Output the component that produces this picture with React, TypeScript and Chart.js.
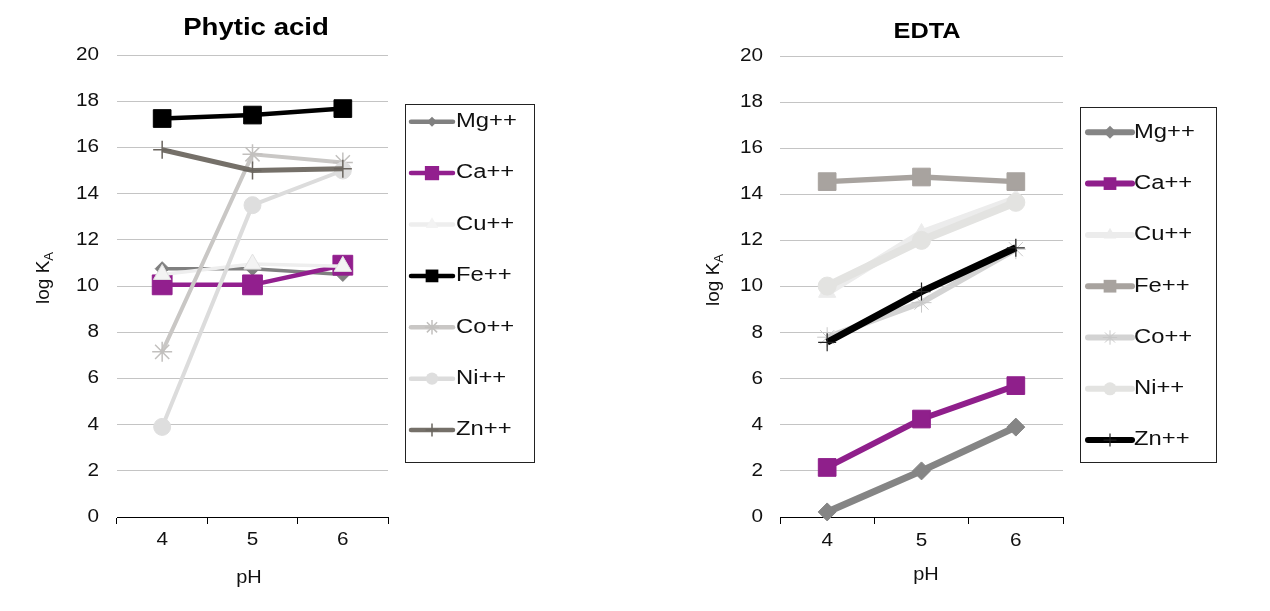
import React, { useEffect, useRef } from 'react';
import { Chart, registerables } from 'chart.js';

Chart.register(...registerables);

// ---------- data ----------
const phLabels = ['4', '5', '6'];
const seriesNames = ['Mg++', 'Ca++', 'Cu++', 'Fe++', 'Co++', 'Ni++', 'Zn++'];
const yMin = 0;
const yMax = 20;
const yStep = 2;

const phyticMg = [10.75, 10.75, 10.5];
const phyticCa = [10.05, 10.05, 10.9];
const phyticCu = [10.5, 10.95, 10.85];
const phyticFe = [17.25, 17.4, 17.68];
const phyticCo = [7.15, 15.7, 15.35];
const phyticNi = [3.9, 13.5, 15.0];
const phyticZn = [15.9, 15.0, 15.08];

const edtaMg = [0.22, 2.0, 3.9];
const edtaCa = [2.15, 4.25, 5.7];
const edtaCu = [9.75, 12.3, 13.8];
const edtaFe = [14.55, 14.75, 14.55];
const edtaCo = [7.8, 9.3, 11.62];
const edtaNi = [10.02, 12.0, 13.65];
const edtaZn = [7.58, 9.78, 11.68];

// ---------- styles ----------
type SeriesStyle = {
  color: string;
  width: number;
  point: string;
  radius: number;
  fill: string;
  stroke: string;
  pbw: number;
};

const phyticStyles: SeriesStyle[] = [
  { color: '#808080', width: 3.5, point: 'rectRot', radius: 7, fill: '#808080', stroke: '#808080', pbw: 1 },
  { color: '#921f8e', width: 4.5, point: 'rect', radius: 14, fill: '#921f8e', stroke: '#921f8e', pbw: 1 },
  { color: '#eeeeee', width: 3.5, point: 'triangle', radius: 10, fill: '#f3f3f3', stroke: '#e2e2e2', pbw: 1 },
  { color: '#000000', width: 4.5, point: 'rect', radius: 12.5, fill: '#000000', stroke: '#000000', pbw: 1 },
  { color: '#c9c7c5', width: 4, point: 'star', radius: 10, fill: '#c9c7c5', stroke: '#c2c0be', pbw: 1.5 },
  { color: '#dcdcdc', width: 4, point: 'circle', radius: 8.5, fill: '#dedede', stroke: '#dedede', pbw: 1 },
  { color: '#757069', width: 5, point: 'cross', radius: 9, fill: '#757069', stroke: '#6a655f', pbw: 1.5 },
];

const edtaStyles: SeriesStyle[] = [
  { color: '#858585', width: 7, point: 'rectRot', radius: 9, fill: '#858585', stroke: '#858585', pbw: 1 },
  { color: '#8f1f8b', width: 6, point: 'rect', radius: 12.5, fill: '#8f1f8b', stroke: '#8f1f8b', pbw: 1 },
  { color: '#ececec', width: 8, point: 'triangle', radius: 10, fill: '#ececec', stroke: '#ececec', pbw: 1 },
  { color: '#a8a39f', width: 5.5, point: 'rect', radius: 12.5, fill: '#a8a39f', stroke: '#a8a39f', pbw: 1 },
  { color: '#d3d3d3', width: 6, point: 'star', radius: 10, fill: '#d3d3d3', stroke: '#c8c8c8', pbw: 1 },
  { color: '#e3e3e1', width: 8, point: 'circle', radius: 9, fill: '#e3e3e1', stroke: '#e3e3e1', pbw: 1 },
  { color: '#000000', width: 7, point: 'cross', radius: 9, fill: '#000000', stroke: '#222222', pbw: 1.2 },
];

// ---------- layout ----------
const FONT = '"Liberation Sans", Arial, sans-serif';

type PanelLayout = {
  left: number;
  width: number;
  area: { l: number; r: number; t: number; b: number };
  title: string;
  titleX: number;
  titleY: number;
  titleSize: number;
  titleSx: number;
  yTickRight: number;
  xTickY: number;
  phX: number;
  phY: number;
  yLabelX: number;
  yLabelY: number;
  legend: { x: number; y: number; w: number; h: number; firstY: number; step: number; x1: number; x2: number; textX: number; lw: number };
};

const leftLayout: PanelLayout = {
  left: 0,
  width: 640,
  area: { l: 117, r: 388, t: 55, b: 517 },
  title: 'Phytic acid',
  titleX: 256,
  titleY: 29,
  titleSize: 23,
  titleSx: 1.2,
  yTickRight: 99,
  xTickY: 540,
  phX: 249,
  phY: 578,
  yLabelX: 49,
  yLabelY: 278,
  legend: { x: 405, y: 104, w: 129, h: 358, firstY: 121.7, step: 51.4, x1: 411, x2: 453, textX: 456, lw: 4.5 },
};

const rightLayout: PanelLayout = {
  left: 640,
  width: 630,
  area: { l: 140, r: 423, t: 56, b: 517 },
  title: 'EDTA',
  titleX: 287,
  titleY: 32,
  titleSize: 22,
  titleSx: 1.15,
  yTickRight: 123,
  xTickY: 541.5,
  phX: 286,
  phY: 575,
  yLabelX: 79,
  yLabelY: 280,
  legend: { x: 440, y: 107, w: 136, h: 355, firstY: 132.3, step: 51.3, x1: 448, x2: 492, textX: 494, lw: 6 },
};

const TICK_SIZE = 18;
const TICK_SX = 1.15;
const LEGEND_SIZE = 19.5;
const LEGEND_SX = 1.22;

function drawText(
  ctx: CanvasRenderingContext2D,
  text: string,
  x: number,
  y: number,
  font: string,
  align: CanvasTextAlign,
  sx: number,
  color = '#111111'
) {
  ctx.save();
  ctx.translate(x, y);
  ctx.scale(sx, 1);
  ctx.font = font;
  ctx.fillStyle = color;
  ctx.textAlign = align;
  ctx.textBaseline = 'middle';
  ctx.fillText(text, 0, 0);
  ctx.restore();
}

function drawMarker(ctx: CanvasRenderingContext2D, st: SeriesStyle, x: number, y: number, r: number) {
  ctx.save();
  ctx.fillStyle = st.fill;
  ctx.strokeStyle = st.stroke;
  ctx.lineWidth = st.pbw;
  ctx.beginPath();
  if (st.point === 'circle') {
    ctx.arc(x, y, r, 0, Math.PI * 2);
    ctx.fill();
  } else if (st.point === 'rect') {
    const s = r * Math.SQRT1_2;
    ctx.rect(x - s, y - s, 2 * s, 2 * s);
    ctx.fill();
  } else if (st.point === 'rectRot') {
    ctx.moveTo(x, y - r);
    ctx.lineTo(x + r, y);
    ctx.lineTo(x, y + r);
    ctx.lineTo(x - r, y);
    ctx.closePath();
    ctx.fill();
  } else if (st.point === 'triangle') {
    let a = 0;
    ctx.moveTo(x + Math.sin(a) * r, y - Math.cos(a) * r);
    a += (2 * Math.PI) / 3;
    ctx.lineTo(x + Math.sin(a) * r, y - Math.cos(a) * r);
    a += (2 * Math.PI) / 3;
    ctx.lineTo(x + Math.sin(a) * r, y - Math.cos(a) * r);
    ctx.closePath();
    ctx.fill();
  } else if (st.point === 'cross') {
    ctx.moveTo(x, y - r);
    ctx.lineTo(x, y + r);
    ctx.moveTo(x - r, y);
    ctx.lineTo(x + r, y);
    ctx.stroke();
  } else if (st.point === 'star') {
    ctx.moveTo(x, y - r);
    ctx.lineTo(x, y + r);
    ctx.moveTo(x - r, y);
    ctx.lineTo(x + r, y);
    const d = r * Math.SQRT1_2;
    ctx.moveTo(x - d, y - d);
    ctx.lineTo(x + d, y + d);
    ctx.moveTo(x + d, y - d);
    ctx.lineTo(x - d, y + d);
    ctx.stroke();
  }
  ctx.restore();
}

function makeDecorPlugin(layout: PanelLayout, styles: SeriesStyle[]) {
  return {
    id: 'decor',
    afterDraw(chart: any) {
      const ctx: CanvasRenderingContext2D = chart.ctx;
      const yScale = chart.scales.y;
      const xScale = chart.scales.x;

      // title
      drawText(ctx, layout.title, layout.titleX, layout.titleY, `bold ${layout.titleSize}px ${FONT}`, 'center', layout.titleSx, '#000');

      // y tick labels from the scale
      yScale.ticks.forEach((t: any) => {
        const py = yScale.getPixelForValue(t.value);
        drawText(ctx, String(t.value), layout.yTickRight, py, `${TICK_SIZE}px ${FONT}`, 'right', TICK_SX);
      });

      // x tick labels from the scale
      chart.data.labels.forEach((lab: string, i: number) => {
        const px = xScale.getPixelForValue(i);
        drawText(ctx, lab, px, layout.xTickY, `${TICK_SIZE}px ${FONT}`, 'center', TICK_SX);
      });

      // x axis title
      drawText(ctx, 'pH', layout.phX, layout.phY, `19px ${FONT}`, 'center', 1.05);

      // y axis title with subscript
      ctx.save();
      ctx.translate(layout.yLabelX, layout.yLabelY);
      ctx.rotate(-Math.PI / 2);
      ctx.fillStyle = '#111111';
      ctx.textBaseline = 'alphabetic';
      ctx.textAlign = 'left';
      const mainFont = `19px ${FONT}`;
      const subFont = `13px ${FONT}`;
      ctx.font = mainFont;
      const w1 = ctx.measureText('log K').width;
      ctx.font = subFont;
      const w2 = ctx.measureText('A').width;
      const start = -(w1 + w2) / 2;
      ctx.font = mainFont;
      ctx.fillText('log K', start, 0);
      ctx.font = subFont;
      ctx.fillText('A', start + w1, 4);
      ctx.restore();

      // legend
      const lg = layout.legend;
      ctx.save();
      ctx.strokeStyle = '#222222';
      ctx.lineWidth = 1;
      ctx.strokeRect(lg.x + 0.5, lg.y + 0.5, lg.w, lg.h);
      ctx.restore();
      chart.data.datasets.forEach((ds: any, i: number) => {
        const st = styles[i];
        const y = lg.firstY + i * lg.step;
        ctx.save();
        ctx.strokeStyle = st.color;
        ctx.lineWidth = lg.lw;
        ctx.lineCap = 'round';
        ctx.beginPath();
        ctx.moveTo(lg.x1, y);
        ctx.lineTo(lg.x2, y);
        ctx.stroke();
        ctx.restore();
        drawMarker(ctx, st, (lg.x1 + lg.x2) / 2, y, st.radius * 0.72);
        drawText(ctx, ds.label, lg.textX, y, `${LEGEND_SIZE}px ${FONT}`, 'left', LEGEND_SX);
      });
    },
  };
}

function buildConfig(layout: PanelLayout, values: number[][], styles: SeriesStyle[]): any {
  const H = 611;
  return {
    type: 'line',
    data: {
      labels: phLabels,
      datasets: values.map((vals, i) => {
        const st = styles[i];
        return {
          label: seriesNames[i],
          data: vals,
          borderColor: st.color,
          backgroundColor: st.color,
          borderWidth: st.width,
          pointStyle: st.point,
          pointRadius: st.radius,
          pointBackgroundColor: st.fill,
          pointBorderColor: st.stroke,
          pointBorderWidth: st.pbw,
          tension: 0,
          clip: false,
          order: values.length - i,
        };
      }),
    },
    options: {
      animation: false,
      responsive: false,
      maintainAspectRatio: false,
      events: [],
      layout: {
        padding: { left: 0, right: layout.width - layout.area.r, top: layout.area.t, bottom: 0 },
      },
      plugins: {
        legend: { display: false },
        title: { display: false },
        tooltip: { enabled: false },
      },
      scales: {
        x: {
          type: 'category',
          offset: true,
          ticks: { display: false },
          grid: {
            display: true,
            offset: true,
            drawOnChartArea: false,
            drawTicks: true,
            tickLength: 7,
            tickColor: '#000000',
            tickWidth: 1,
            color: '#000000',
          },
          border: { display: true, color: '#000000', width: 1 },
          afterFit: (scale: any) => {
            scale.height = H - layout.area.b;
          },
        },
        y: {
          type: 'linear',
          min: yMin,
          max: yMax,
          ticks: { display: false, stepSize: yStep },
          grid: {
            drawTicks: false,
            color: (c: any) => (c.tick && c.tick.value === 0 ? 'rgba(0,0,0,0)' : '#c4c4c4'),
            lineWidth: 1,
          },
          border: { display: false },
          afterFit: (scale: any) => {
            scale.width = layout.area.l;
          },
        },
      },
    },
    plugins: [makeDecorPlugin(layout, styles)],
  };
}

function Panel({ layout, values, styles }: { layout: PanelLayout; values: number[][]; styles: SeriesStyle[] }) {
  const ref = useRef<HTMLCanvasElement | null>(null);
  useEffect(() => {
    if (!ref.current) return;
    const chart = new Chart(ref.current, buildConfig(layout, values, styles));
    return () => chart.destroy();
  }, []);
  return (
    <div style={{ position: 'absolute', left: layout.left, top: 0, width: layout.width, height: 611 }}>
      <canvas ref={ref} width={layout.width} height={611} style={{ display: 'block' }} />
    </div>
  );
}

export default function App() {
  return (
    <div style={{ position: 'fixed', left: 0, top: 0, width: 1270, height: 611, background: '#ffffff' }}>
      <Panel
        layout={leftLayout}
        values={[phyticMg, phyticCa, phyticCu, phyticFe, phyticCo, phyticNi, phyticZn]}
        styles={phyticStyles}
      />
      <Panel
        layout={rightLayout}
        values={[edtaMg, edtaCa, edtaCu, edtaFe, edtaCo, edtaNi, edtaZn]}
        styles={edtaStyles}
      />
    </div>
  );
}
